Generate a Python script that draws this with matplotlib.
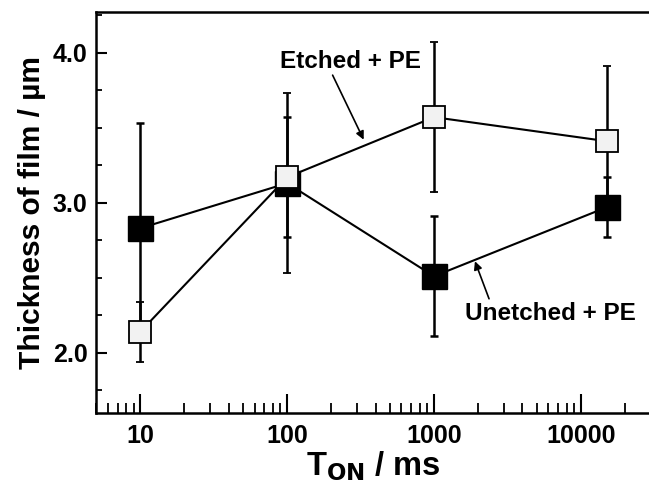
import matplotlib
matplotlib.use("Agg")
import numpy as np
import matplotlib.pyplot as plt
from matplotlib.ticker import MultipleLocator, LogLocator, NullFormatter, FixedLocator

plt.rcParams['font.family'] = ['Liberation Sans', 'DejaVu Sans']
plt.rcParams['font.weight'] = 'bold'
plt.rcParams['axes.labelweight'] = 'bold'

# pulse on-time (ms)
t_on = [10, 100, 1000, 15000]

# unetched + PE (filled squares)
unetched = [2.83, 3.13, 2.51, 2.97]
unetched_lo = [0.70, 0.36, 0.40, 0.20]
unetched_hi = [0.70, 0.44, 0.40, 0.20]

# etched + PE (open squares)
etched = [2.14, 3.17, 3.57, 3.41]
etched_lo = [0.20, 0.64, 0.50, 0.50]
etched_hi = [0.20, 0.56, 0.50, 0.50]

fig = plt.figure(figsize=(6.49, 4.84), dpi=100)
ax = fig.add_axes([0.148, 0.147, 0.855, 0.828])

ax.errorbar(t_on, unetched, yerr=[unetched_lo, unetched_hi], fmt='s-', color='black',
            mfc='black', mec='black', ms=18, lw=1.5, elinewidth=1.8, capsize=3,
            capthick=1.8, zorder=3)
ax.errorbar(t_on, etched, yerr=[etched_lo, etched_hi], fmt='s-', color='black',
            mfc='#f2f2f2', mec='black', mew=1.3, ms=15.5, lw=1.5, elinewidth=1.8,
            capsize=3, capthick=1.8, zorder=4)

ax.set_xscale('log')
ax.set_xlim(5, 30000)
ax.set_ylim(1.6, 4.27)

ax.xaxis.set_major_locator(FixedLocator([10, 100, 1000, 10000]))
ax.set_xticklabels(['10', '100', '1000', '10000'])
ax.xaxis.set_minor_locator(LogLocator(base=10, subs=np.arange(2, 10)))
ax.xaxis.set_minor_formatter(NullFormatter())
ax.yaxis.set_major_locator(MultipleLocator(1.0))
ax.yaxis.set_minor_locator(MultipleLocator(0.25))
ax.yaxis.set_major_formatter(matplotlib.ticker.FormatStrFormatter('%.1f'))

ax.tick_params(axis='x', which='major', direction='in', length=14, width=1.5,
               labelsize=18, pad=8)
ax.tick_params(axis='x', which='minor', direction='in', length=7, width=1.3)
ax.tick_params(axis='y', which='major', direction='in', length=8, width=1.5,
               labelsize=18, pad=6)
ax.tick_params(axis='y', which='minor', direction='in', length=4, width=1.3)

for s in ['left', 'bottom', 'top']:
    ax.spines[s].set_linewidth(1.8)
ax.spines['right'].set_visible(False)

ax.set_xlabel(r'T$_{\mathbf{ON}}$ / ms', fontsize=23.5, labelpad=1)
ax.set_ylabel('Thickness of film / µm', fontsize=21.5, labelpad=5)

# annotations with arrows pointing at each curve
ax.text(270, 3.94, 'Etched + PE', fontsize=17.5, ha='center', va='center')
ax.annotate('', xy=(332, 3.42), xytext=(204, 3.85),
            arrowprops=dict(arrowstyle='-|>', color='black', lw=1.2,
                            mutation_scale=12, shrinkA=0, shrinkB=0))
ax.text(6200, 2.26, 'Unetched + PE', fontsize=17.5, ha='center', va='center')
ax.annotate('', xy=(1900, 2.61), xytext=(2370, 2.36),
            arrowprops=dict(arrowstyle='-|>', color='black', lw=1.2,
                            mutation_scale=12, shrinkA=0, shrinkB=0))

fig.savefig('out.png', dpi=100)
